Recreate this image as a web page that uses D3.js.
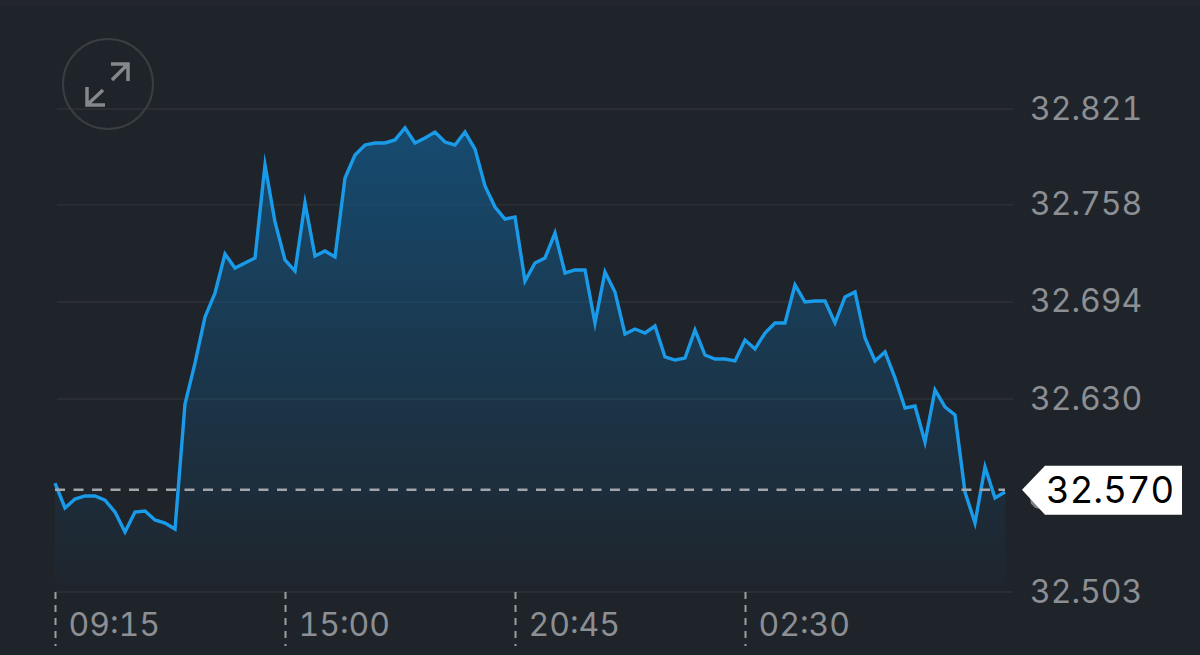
<!DOCTYPE html>
<html>
<head>
<meta charset="utf-8">
<script src="https://cdn.jsdelivr.net/npm/d3@7"></script>
<style>
html,body{margin:0;padding:0;background:#1f242b;}
svg{display:block;}
text{font-family:Inter,"Noto Sans",sans-serif;font-feature-settings:"tnum";}
</style>
</head>
<body>
<svg id="c" width="1200" height="655"></svg>
<script>
const prices = [32.5744,32.5580,32.5639,32.5659,32.5659,32.5632,32.5553,32.5422,32.5553,32.5560,32.5501,32.5481,
32.5441,32.6264,32.6534,32.6837,32.6995,32.7252,32.7160,32.7193,32.7226,32.7838,32.7463,32.7213,
32.7140,32.7588,32.7239,32.7272,32.7232,32.7752,32.7904,32.7970,32.7983,32.7983,32.8003,32.8082,
32.7983,32.8016,32.8055,32.7989,32.7970,32.8055,32.7943,32.7700,32.7561,32.7482,32.7496,32.7074,
32.7193,32.7226,32.7390,32.7127,32.7147,32.7147,32.6798,32.7134,32.7002,32.6725,32.6758,32.6732,
32.6778,32.6574,32.6554,32.6567,32.6752,32.6587,32.6561,32.6561,32.6548,32.6686,32.6627,32.6732,
32.6798,32.6798,32.7048,32.6936,32.6943,32.6943,32.6798,32.6969,32.7002,32.6699,32.6548,32.6607,
32.6436,32.6238,32.6251,32.6014,32.6357,32.6245,32.6192,32.5685,32.5481,32.5850,32.5646,32.5685];
const yTicks = [32.821,32.758,32.694,32.630,32.503];
const timeTickIndex = [0,23,46,69];
const timeLabels = ["09:15","15:00","20:45","02:30"];
const lastPrice = 32.570;

const svg = d3.select("#c");
const x = d3.scaleLinear().domain([0,95]).range([55,1005]);
const y = d3.scaleLinear().domain([32.503,32.821]).range([591.5,108.5]);

const defs = svg.append("defs");
const grad = defs.append("linearGradient").attr("id","fillGrad")
  .attr("gradientUnits","userSpaceOnUse").attr("x1",0).attr("x2",0).attr("y1",128).attr("y2",591);
grad.append("stop").attr("offset","0").attr("stop-color","#0e6cab").attr("stop-opacity",0.54);
grad.append("stop").attr("offset","0.5").attr("stop-color","#0e6cab").attr("stop-opacity",0.27);
grad.append("stop").attr("offset","1").attr("stop-color","#0e6cab").attr("stop-opacity",0.01);

// top lighter band
svg.append("rect").attr("x",0).attr("y",0).attr("width",1200).attr("height",6).attr("fill","#23262d");

// y axis with gridlines
const yAxis = d3.axisRight(y).tickValues(yTicks).tickFormat(d3.format(".3f"))
  .tickSize(-956).tickPadding(17);
const gy = svg.append("g").attr("transform","translate(1013,0)").call(yAxis);
gy.select(".domain").remove();
gy.selectAll("line").attr("stroke","#2a2d34").attr("stroke-width",2);
gy.selectAll("text").attr("fill","#8c8f93").attr("font-size",32).attr("dy","0.33em")
  .style("font-family","Inter,sans-serif");

// x axis
const xAxis = d3.axisBottom(x).tickValues(timeTickIndex)
  .tickFormat((d,i)=>timeLabels[i]).tickSize(54).tickPadding(0);
const gx = svg.append("g").attr("transform","translate(0,592)").call(xAxis);
gx.select(".domain").remove();
gx.selectAll("line").attr("stroke","#9a9da1").attr("stroke-width",2).attr("stroke-dasharray","7 6");
gx.selectAll("text").attr("fill","#8c8f93").attr("font-size",32).attr("text-anchor","start")
  .attr("x",13).attr("y",32).attr("dy","0.36em").style("font-family","Inter,sans-serif");

// area and line
const pts = prices.map((v,i)=>[i,v]);
svg.append("path").datum(pts).attr("fill","url(#fillGrad)")
  .attr("d",d3.area().x(d=>x(d[0])).y0(y(32.503)).y1(d=>y(d[1])));
svg.append("path").datum(pts).attr("fill","none").attr("stroke","#1a9bea").attr("stroke-width",3.4)
  .attr("stroke-linejoin","miter").attr("stroke-miterlimit",12)
  .attr("d",d3.line().x(d=>x(d[0])).y(d=>y(d[1])));

// last price line
svg.append("line").attr("x1",x(0)).attr("x2",x(95)).attr("y1",y(lastPrice)).attr("y2",y(lastPrice))
  .attr("stroke","#a2a6ab").attr("stroke-width",2.5).attr("stroke-dasharray","10 8.5");

// last price label, with the sliver of grey peeking out under its left edge
const ly = y(lastPrice);
svg.append("path").attr("fill","#7f8286")
  .attr("d",`M1030,${ly+8} L1042,${ly+20} L1035,${ly+18} L1031,${ly+14} Z`);
svg.append("path").attr("fill","#ffffff")
  .attr("d",`M1022,${ly} L1045,${ly-24} L1182,${ly-24} L1182,${ly+25} L1045,${ly+25} Z`);
svg.append("text").attr("x",1046).attr("y",ly).attr("dy","0.36em").attr("fill","#000")
  .attr("font-size",36.5).text(d3.format(".3f")(lastPrice));

// expand icon
const icon = svg.append("g");
icon.append("circle").attr("cx",108).attr("cy",84).attr("r",45).attr("fill","none").attr("stroke","#3a3d42").attr("stroke-width",2);
icon.append("path").attr("fill","none").attr("stroke","#85888c").attr("stroke-width",3.5)
  .attr("d","M111,64 H128 V81 M128,64 L112,80 M87,87 V105 H105 M87,105 L103,90");
</script>
</body>
</html>
